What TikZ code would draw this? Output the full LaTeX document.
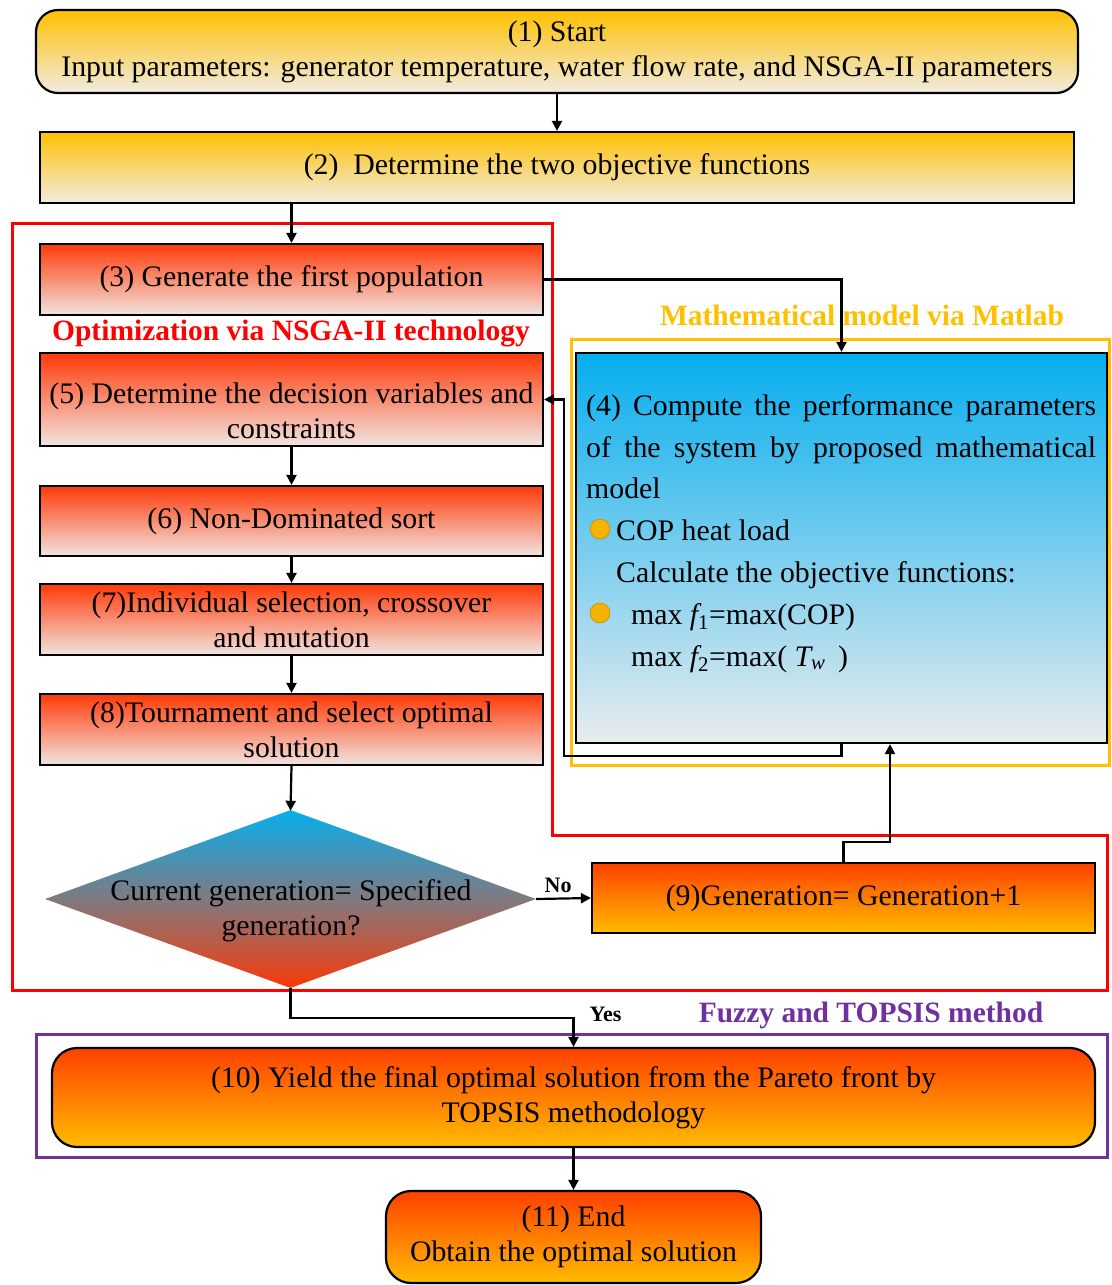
\documentclass[tikz,border=0pt]{standalone}
\usepackage{fontspec}
\setmainfont{Liberation Serif}
\usetikzlibrary{arrows.meta,shapes.geometric,calc}
\definecolor{gold}{HTML}{FFC000}
\definecolor{creamY}{HTML}{F0ECE2}
\definecolor{redtop}{HTML}{FF3A08}
\definecolor{redbot}{HTML}{F1E4E0}
\definecolor{orangetop}{HTML}{FF4000}
\definecolor{orangebot}{HTML}{FFBC00}
\definecolor{bluetop}{HTML}{06AEEE}
\definecolor{bluebot}{HTML}{E8ECEE}
\definecolor{diamid}{HTML}{807A80}
\definecolor{diabot}{HTML}{F83A08}
\definecolor{purp}{HTML}{7030A0}
\definecolor{bulletc}{HTML}{F2B400}
\newcommand\mainsz{\fontsize{29.8}{35}\selectfont}
\newcommand\labsz{\fontsize{29.5}{35}\selectfont\bfseries}
\newcommand\smsz{\fontsize{22}{26}\selectfont\bfseries}
\begin{document}
\begin{tikzpicture}[x=1pt,y=-1pt,
  box/.style={draw=black, line width=2.2pt, inner sep=0pt, align=center, font=\mainsz},
  ybox/.style={box, top color=gold, bottom color=creamY},
  rbox/.style={box, top color=redtop, bottom color=redbot},
  obox/.style={box, top color=orangetop, bottom color=orangebot},
  arr/.style={line width=2.2pt, -{Triangle[length=10pt,width=10pt]}},
  txt/.style={inner sep=0pt, font=\mainsz, anchor=base west},
  bul/.style={circle, fill=bulletc, draw=bulletc!80!black, line width=0.6pt, minimum size=20pt, inner sep=0pt},
  frame/.style={line width=3pt}
]
\useasboundingbox (0,0) rectangle (1111,1285);

% frames
\draw[frame, red] (12,223) -- (552,223) -- (552,835) -- (1107,835) -- (1107,990) -- (12,990) -- cycle;
\draw[frame, gold] (571,339) rectangle (1109.5,765);
\draw[frame, purp] (36,1034) rectangle (1107,1157);

% frame labels
\node[font=\labsz, text=red, inner sep=0pt] (lopt) at (291,334) {Optimization via NSGA-II technology};
\node[font=\labsz, text=gold, inner sep=0pt] (lmat) at (862,315) {Mathematical model via Matlab};
\node[font=\labsz, text=purp, inner sep=0pt] (lfuz) at (871,1015) {Fuzzy and TOPSIS method};

% boxes
\node[ybox, rounded corners=22pt, minimum width=1042pt, minimum height=83pt] (b1) at (557,51.5)
  {(1) Start\\Input parameters: generator temperature, water flow rate, and NSGA-II parameters};
\node[ybox, minimum width=1034pt, minimum height=71pt] (b2) at (557,167.5)
  {(2)\ \ Determine the two objective functions};
\node[rbox, minimum width=503pt, minimum height=71pt] (b3) at (291.5,279.5)
  {(3) Generate the first population};
\node[rbox, minimum width=503pt, minimum height=93pt] (b5) at (291.5,399.5) {};
\node[inner sep=0pt, align=center, font=\mainsz] (t5) at (291.5,411)
  {(5) Determine the decision variables and\\constraints};
\node[rbox, minimum width=503pt, minimum height=70pt] (b6) at (291.5,521)
  {(6) Non-Dominated sort};
\node[rbox, minimum width=503pt, minimum height=71pt] (b7) at (291.5,619.5)
  {(7)Individual selection, crossover\\and mutation};
\node[rbox, minimum width=503pt, minimum height=71pt] (b8) at (291.5,729.5)
  {(8)Tournament and select optimal\\solution};
\node[diamond, draw=none, inner sep=0pt, minimum width=491pt, minimum height=178pt,
  top color=bluetop, bottom color=diabot, middle color=diamid] (dia) at (290.5,899) {};
\node[inner sep=0pt, align=center, font=\mainsz] (tdia) at (291,911)
  {Current generation= Specified\\generation?};
\node[obox, minimum width=503pt, minimum height=70pt] (b9) at (843.5,898)
  {(9)Generation= Generation+1};
\node[box, top color=bluetop, bottom color=bluebot, minimum width=531pt, minimum height=390pt] (b4) at (841.5,548) {};
\node[obox, rounded corners=25pt, minimum width=1043pt, minimum height=99pt] (b10) at (573.5,1097.5)
  {(10) Yield the final optimal solution from the Pareto front by\\TOPSIS methodology};
\node[obox, rounded corners=25pt, minimum width=375pt, minimum height=92pt] (b11) at (573.5,1237)
  {(11) End\\Obtain the optimal solution};

% box 4 content
\node[txt] (t4a) at (586,415) {\makebox[510pt][s]{(4) Compute the performance parameters}};
\node[txt] (t4b) at (586,457) {\makebox[510pt][s]{of the system by proposed mathematical}};
\node[txt] (t4c) at (586,498) {model};
\node[bul] (bu1) at (600,529) {};
\node[txt] (t4d) at (616,540) {COP heat load};
\node[txt] (t4e) at (616,582) {Calculate the objective functions:};
\node[bul] (bu2) at (600,613) {};
\node[txt] (t4f) at (631,624) {max {\itshape f}\textsubscript{1}=max(COP)};
\node[txt] (t4g) at (631,666) {max {\itshape f}\textsubscript{2}=max(\ {\itshape T}\textsubscript{\itshape w}\ \,)};

% connectors
\draw[arr] (b1.south) -- (b2.north);
\draw[arr] (b3.north |- b2.south) -- (b3.north);
\draw[arr] (b3.east) -| (b4.north);
\draw[arr] (b4.south) -- ++(0,12) -| ([xshift=20pt]b5.east) -- (b5.east);
\draw[arr] (b5.south) -- (b6.north);
\draw[arr] (b6.south) -- (b7.north);
\draw[arr] (b7.south) -- (b8.north);
\draw[arr] (b8.south) -- ([yshift=-1pt]dia.north);
\draw[arr] (dia.east) -- (b9.west) node[pos=0.4, above=5pt, font=\smsz, inner sep=0pt] (lno) {No};
\draw[arr] (b9.north) -- ++(0,-20) -| ([xshift=48.5pt]b4.south);
\draw[arr] (dia.south) -- ++(0,30) -| (b10.north) node[pos=0.5, anchor=west, xshift=15pt, yshift=4pt, font=\smsz, inner sep=0pt] (lyes) {Yes};
\draw[arr] (b10.south) -- (b11.north);
\end{tikzpicture}
\end{document}
